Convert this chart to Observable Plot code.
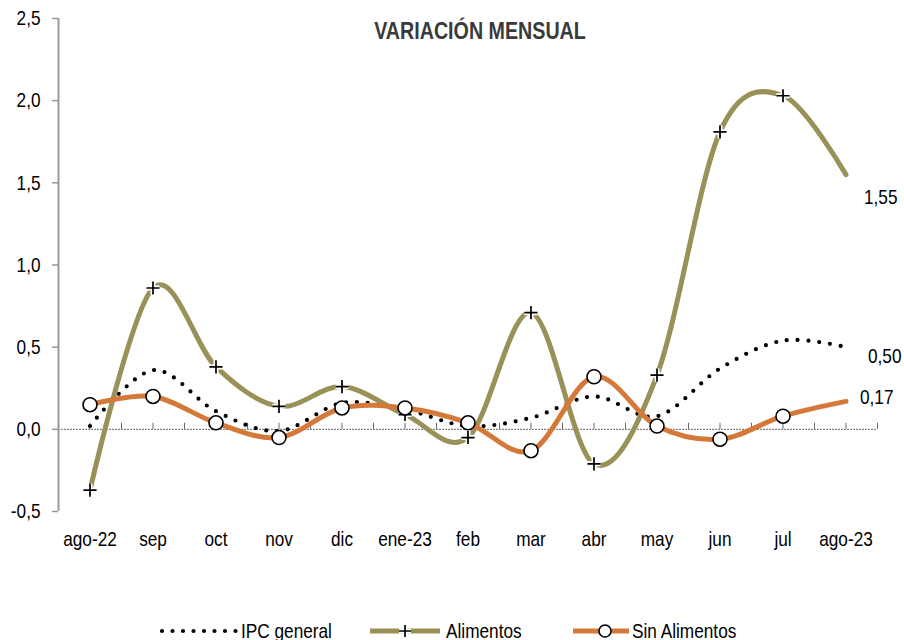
<!DOCTYPE html>
<html><head><meta charset="utf-8">
<script src="https://cdn.jsdelivr.net/npm/d3@7"></script>
<script src="https://cdn.jsdelivr.net/npm/@observablehq/plot@0.6"></script>
<style>
body{margin:0;background:#fff;font-family:"Liberation Sans",Arial,sans-serif;}
#chart{position:absolute;left:0;top:0;}
#legend{position:absolute;left:0;top:619px;width:904px;height:24px;font-size:21px;color:#000;}
.sw{position:absolute;top:0;}
.lt{position:absolute;top:0;line-height:24px;white-space:nowrap;transform:scaleX(0.82);transform-origin:0 50%;}
</style></head><body>
<div id="chart"></div><div id="legend"></div>
<script>
const months = ["ago-22","sep","oct","nov","dic","ene-23","feb","mar","abr","may","jun","jul","ago-23"];
const ipcGeneral = [0.02,0.36,0.11,-0.01,0.16,0.12,0.02,0.07,0.20,0.08,0.37,0.54,0.50];
const alimentos = [-0.37,0.86,0.38,0.14,0.26,0.09,-0.05,0.71,-0.21,0.33,1.81,2.03,1.55];
const sinAlimentos = [0.15,0.20,0.04,-0.05,0.13,0.13,0.04,-0.13,0.32,0.02,-0.06,0.08,0.17];
const yTicks = [-0.5,0,0.5,1,1.5,2,2.5];
const seriesNames = ["IPC general","Alimentos","Sin Alimentos"];
const title = "VARIACIÓN MENSUAL";

const olive = "#9A9158", orange = "#D5793A";
const loc = d3.formatLocale({decimal:",", thousands:".", grouping:[3], currency:["",""], minus:"-"});
const f1 = loc.format(".1f"), f2 = loc.format(".2f");

const rows = months.map((m,i)=>({i, m, ipc:ipcGeneral[i], ali:alimentos[i], sin:sinAlimentos[i]}));
const markerRows = rows.slice(0, rows.length-1);
const last = rows[rows.length-1];
const idx = rows.map(d=>d.i);
const gridPos = [...idx.map(i=>i-0.5), ...idx.map(i=>i), idx.length-0.5];

const chart = Plot.plot({
  width:904, height:560,
  marginLeft:58, marginRight:27, marginTop:18, marginBottom:49,
  x:{type:"linear", domain:[-0.5, idx.length-0.5]},
  y:{domain:[-0.5, 2.5]},
  style:{fontFamily:'"Liberation Sans",Arial,sans-serif', fontSize:"21px", color:"#000", background:"#fff", overflow:"visible"},
  marks:[
    Plot.ruleY([0], {stroke:"#666", strokeWidth:1, strokeDasharray:"2,1"}),
    Plot.ruleX(gridPos, {x:d=>d, y1:0, y2:0, insetTop:-6, stroke:"#666", strokeWidth:1}),
    Plot.ruleX([-0.5], {stroke:"#9a9a9a", strokeWidth:2}),
    Plot.axisY({ticks:yTicks, tickSize:6, tickPadding:12, tickFormat:f1, stroke:"#9a9a9a", strokeWidth:1.5, fontSize:21, label:null}),
    Plot.axisX({ticks:idx, tickSize:0, tickPadding:20, tickFormat:i=>months[i], fontSize:21, label:null}),
    Plot.line(rows, {x:"i", y:"ipc", curve:"cardinal", stroke:"#000", strokeWidth:4.2, strokeDasharray:"0,10.8", strokeLinecap:"round"}),
    Plot.line(rows, {x:"i", y:"ali", curve:"cardinal", stroke:olive, strokeWidth:5}),
    Plot.dot(markerRows, {x:"i", y:"ali", symbol:"plus", r:4.3, stroke:"#fff", strokeWidth:5}),
    Plot.dot(markerRows, {x:"i", y:"ali", symbol:"plus", r:4.3, stroke:"#000", strokeWidth:1.7}),
    Plot.line(rows, {x:"i", y:"sin", curve:"cardinal", stroke:orange, strokeWidth:5}),
    Plot.dot(markerRows, {x:"i", y:"sin", r:7, fill:"#fff", stroke:"#000", strokeWidth:1.6}),
    Plot.text([last], {x:"i", y:"ali", text:d=>f2(d.ali), textAnchor:"start", dx:18, dy:23, fontSize:21}),
    Plot.text([last], {x:"i", y:"ipc", text:d=>f2(d.ipc), textAnchor:"start", dx:22, dy:9, fontSize:21}),
    Plot.text([last], {x:"i", y:"sin", text:d=>f2(d.sin), textAnchor:"start", dx:14, dy:-4, fontSize:21}),
    Plot.text([title], {frameAnchor:"top", lineAnchor:"middle", dy:13, dx:12, fontWeight:"bold", fontSize:24, fill:"#3a3a3a"})
  ]
});
// condense all texts (narrow face look), scaling about each text's own anchor
chart.querySelectorAll("text").forEach(t => {
  const tr = t.getAttribute("transform") || "";
  t.setAttribute("transform", `${tr} scale(0.82,1)`);
});
document.getElementById("chart").append(chart);

// legend
const lg = document.getElementById("legend");
lg.innerHTML = `
<svg class="sw" style="left:158px" width="82" height="24"><line x1="4" y1="12" x2="78" y2="12" stroke="#000" stroke-width="4.2" stroke-dasharray="0,10.5" stroke-linecap="round"/></svg>
<div class="lt" style="left:241px">${seriesNames[0]}</div>
<svg class="sw" style="left:368px" width="76" height="24"><line x1="2" y1="12" x2="72" y2="12" stroke="${olive}" stroke-width="5"/><path d="M31,12h12M37,6v12" stroke="#fff" stroke-width="5"/><path d="M31,12h12M37,6v12" stroke="#000" stroke-width="1.7"/></svg>
<div class="lt" style="left:446px">${seriesNames[1]}</div>
<svg class="sw" style="left:571px" width="62" height="24"><line x1="2" y1="12" x2="58" y2="12" stroke="${orange}" stroke-width="5"/><circle cx="34" cy="12" r="6" fill="#fff" stroke="#000" stroke-width="1.6"/></svg>
<div class="lt" style="left:632px">${seriesNames[2]}</div>`;
</script>
</body></html>
